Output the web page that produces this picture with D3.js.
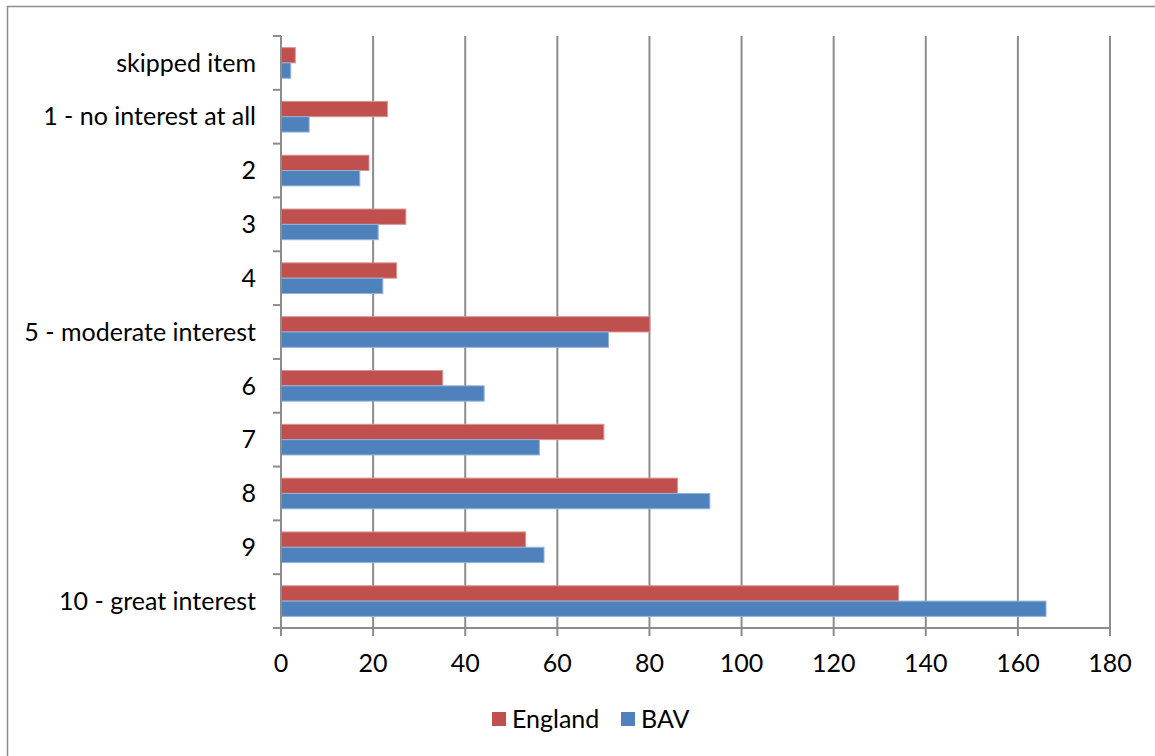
<!DOCTYPE html>
<html>
<head>
<meta charset="utf-8">
<script src="https://cdn.jsdelivr.net/npm/d3@7"></script>
<style>
  html, body { margin: 0; padding: 0; background: #fff; }
  svg { display: block; }
  text { font-family: Lato, "Open Sans", sans-serif; fill: #000; }
</style>
</head>
<body>
<svg id="chart" width="1155" height="756"></svg>
<script>
// Survey responses: interest level, England vs BAV
const categories = ["skipped item", "1 - no interest at all", "2", "3", "4",
  "5 - moderate interest", "6", "7", "8", "9", "10 - great interest"];
const seriesNames = ["England", "BAV"];
const england = [3, 23, 19, 27, 25, 80, 35, 70, 86, 53, 134];
const bav = [2, 6, 17, 21, 22, 71, 44, 56, 93, 57, 166];
const xTicks = [0, 20, 40, 60, 80, 100, 120, 140, 160, 180];

const colors = { England: "#C0504D", BAV: "#4F81BD" };
const outlines = { England: "#d99694", BAV: "#95b3d7" };
const gridColor = "#8c8c8c";
const fontSize = 25;

const svg = d3.select("#chart");

// outer chart frame
svg.append("rect")
  .attr("x", 7.5).attr("y", 6.5)
  .attr("width", 1160).attr("height", 760)
  .attr("fill", "none").attr("stroke", "#8c8c8c").attr("stroke-width", 1.5);

const plotLeft = 281, plotRight = 1110, plotTop = 36, plotBottom = 628;

const x = d3.scaleLinear().domain([0, 180]).range([plotLeft, plotRight]);
const y = d3.scaleBand().domain(categories).range([plotTop, plotBottom])
  .paddingInner(0.43).paddingOuter(0.215);
const ySub = d3.scaleBand().domain(seriesNames).range([0, y.bandwidth()]);

// vertical gridlines
svg.append("g").selectAll("line")
  .data(xTicks.filter(d => d > 0))
  .join("line")
  .attr("x1", d => x(d)).attr("x2", d => x(d))
  .attr("y1", plotTop).attr("y2", plotBottom)
  .attr("stroke", gridColor).attr("stroke-width", 2);

// bars
const rows = categories.map((c, i) => ({ cat: c, England: england[i], BAV: bav[i] }));
const groups = svg.append("g").selectAll("g")
  .data(rows).join("g")
  .attr("transform", d => `translate(0,${y(d.cat)})`);
groups.selectAll("rect")
  .data(d => seriesNames.map(s => ({ s, v: d[s] })))
  .join("rect")
  .attr("x", x(0) + 0.5)
  .attr("y", d => ySub(d.s))
  .attr("width", d => x(d.v) - x(0))
  .attr("height", ySub.bandwidth())
  .attr("fill", d => colors[d.s])
  .attr("stroke", d => outlines[d.s])
  .attr("stroke-width", 1);

// category axis (left)
const step = y.step();
const catBounds = d3.range(categories.length + 1).map(i => plotTop + i * step);
svg.append("line")
  .attr("x1", plotLeft).attr("x2", plotLeft).attr("y1", plotTop).attr("y2", plotBottom)
  .attr("stroke", gridColor).attr("stroke-width", 2);
svg.append("g").selectAll("line")
  .data(catBounds).join("line")
  .attr("x1", plotLeft - 8).attr("x2", plotLeft)
  .attr("y1", d => d).attr("y2", d => d)
  .attr("stroke", gridColor).attr("stroke-width", 2);
svg.append("g").selectAll("text")
  .data(categories).join("text")
  .attr("x", 256)
  .attr("y", d => y(d) + y.bandwidth() / 2)
  .attr("dy", "0.35em")
  .attr("text-anchor", "end")
  .attr("font-size", fontSize)
  .text(d => d);

// value axis (bottom)
svg.append("line")
  .attr("x1", plotLeft).attr("x2", plotRight).attr("y1", plotBottom).attr("y2", plotBottom)
  .attr("stroke", gridColor).attr("stroke-width", 2);
svg.append("g").selectAll("line")
  .data(xTicks).join("line")
  .attr("x1", d => x(d)).attr("x2", d => x(d))
  .attr("y1", plotBottom).attr("y2", plotBottom + 8)
  .attr("stroke", gridColor).attr("stroke-width", 2);
svg.append("g").selectAll("text")
  .data(xTicks).join("text")
  .attr("x", d => x(d))
  .attr("y", 672)
  .attr("text-anchor", "middle")
  .attr("font-size", fontSize)
  .text(d => d);

// legend
const legendItems = [
  { s: "England", box: 492, tx: 512 },
  { s: "BAV", box: 621, tx: 641 }
];
const legend = svg.append("g");
legend.selectAll("rect")
  .data(legendItems).join("rect")
  .attr("x", d => d.box).attr("y", 712)
  .attr("width", 14).attr("height", 14)
  .attr("fill", d => colors[d.s]);
legend.selectAll("text")
  .data(legendItems).join("text")
  .attr("x", d => d.tx).attr("y", 728)
  .attr("font-size", fontSize)
  .text(d => d.s);
</script>
</body>
</html>
